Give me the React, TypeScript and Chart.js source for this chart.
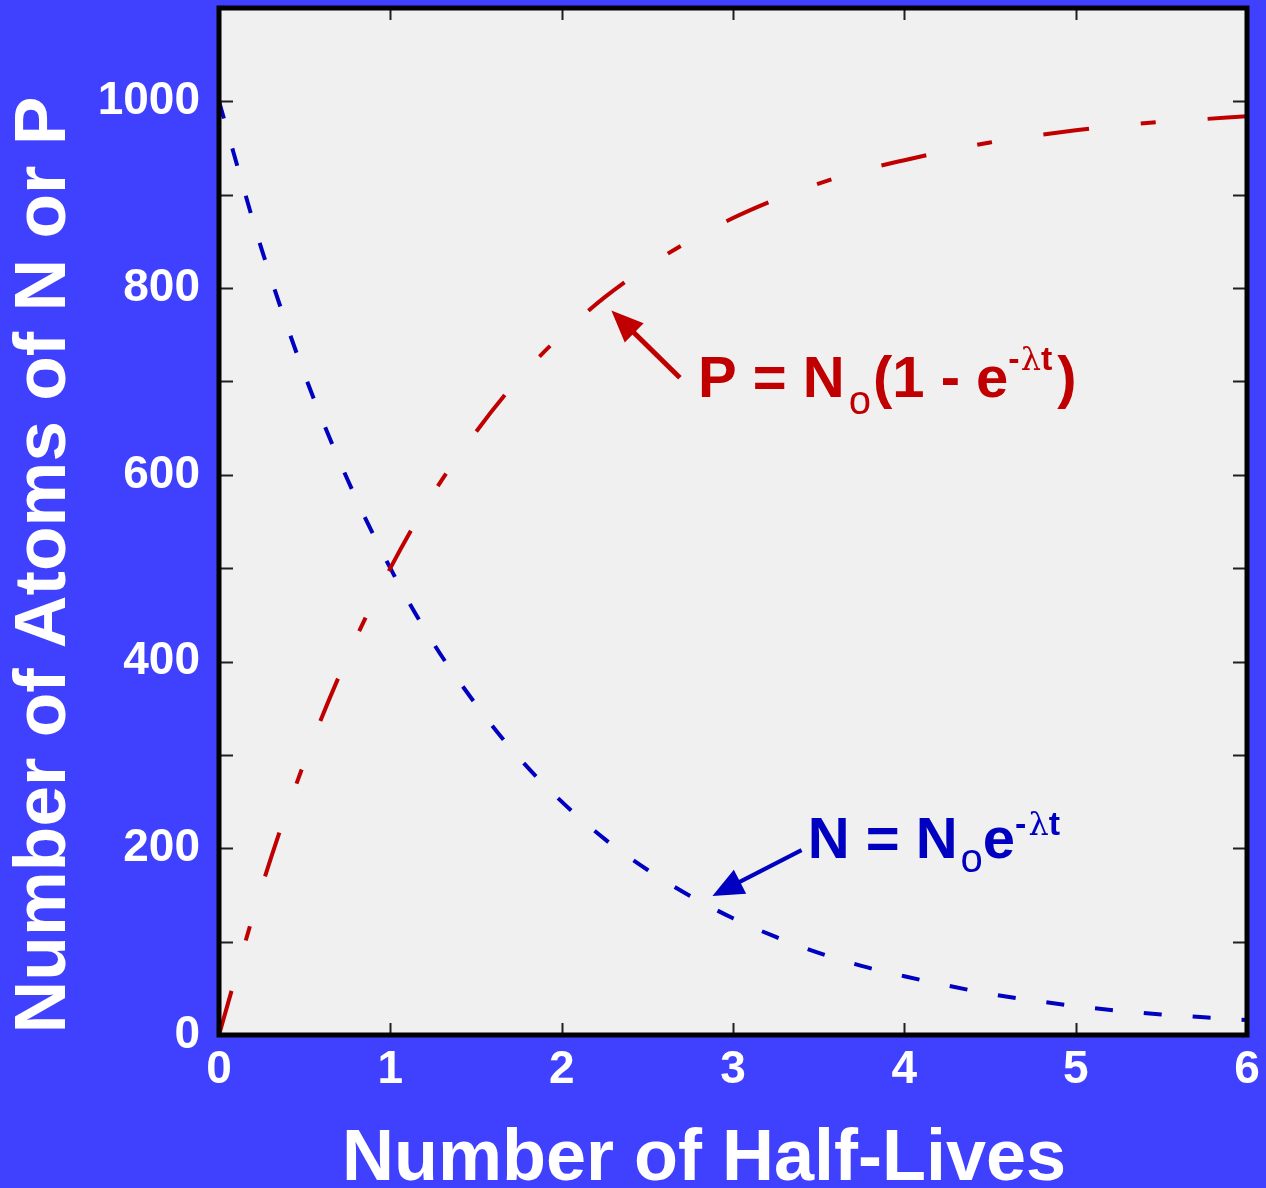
import React, { useEffect, useRef } from 'react';
import { Chart, registerables } from 'chart.js';

Chart.register(...registerables);

// ---- data ----
const halfLives = [0, 0.25, 0.5, 0.75, 1, 1.25, 1.5, 1.75, 2, 2.25, 2.5, 2.75, 3, 3.25, 3.5, 3.75, 4, 4.25, 4.5, 4.75, 5, 5.25, 5.5, 5.75, 6];
const nAtoms = [1000, 841, 707, 595, 500, 420, 354, 297, 250, 210, 177, 149, 125, 105, 88, 74, 63, 53, 44, 37, 31, 26, 22, 19, 16];
const pAtoms = [0, 159, 293, 405, 500, 580, 646, 703, 750, 790, 823, 851, 875, 895, 912, 926, 937, 947, 956, 963, 969, 974, 978, 981, 984];
const yLabelValues = [0, 200, 400, 600, 800, 1000];
const xTitle = 'Number of Half-Lives';
const yTitle = 'Number of Atoms of N or P';

// annotation anchors (data space)
const pArrowTip = [2.29, 776];
const pArrowTail = [2.69, 704];
const pLabelAt = [2.796, 683];
const nArrowTip = [2.88, 149];
const nArrowTail = [3.40, 198];
const nLabelAt = [3.436, 190];

const FONT = '"Liberation Sans", Arial, Helvetica, sans-serif';
const BG = '#4040FF';
const PLOT_BG = '#F0F0F0';
const RED = '#C00000';
const BLUE = '#0000C0';

type Part = { t: string; s: number; w: string; dy?: number; gap?: number; f?: string };

function drawRich(ctx: CanvasRenderingContext2D, x: number, y: number, parts: Part[], color: string) {
  ctx.save();
  ctx.fillStyle = color;
  ctx.textBaseline = 'alphabetic';
  ctx.textAlign = 'left';
  let cx = x;
  for (const p of parts) {
    cx += p.gap || 0;
    ctx.font = `${p.w} ${p.s}px ${p.f || FONT}`;
    ctx.fillText(p.t, cx, y + (p.dy || 0));
    cx += ctx.measureText(p.t).width;
  }
  ctx.restore();
}

function drawArrow(ctx: CanvasRenderingContext2D, tx: number, ty: number, sx: number, sy: number, color: string, lw: number, hl: number, hw: number) {
  const ang = Math.atan2(ty - sy, tx - sx);
  const bx = tx - Math.cos(ang) * hl;
  const by = ty - Math.sin(ang) * hl;
  ctx.save();
  ctx.strokeStyle = color;
  ctx.fillStyle = color;
  ctx.lineWidth = lw;
  ctx.lineCap = 'butt';
  ctx.beginPath();
  ctx.moveTo(sx, sy);
  ctx.lineTo(bx + Math.cos(ang) * 2, by + Math.sin(ang) * 2);
  ctx.stroke();
  const px = -Math.sin(ang) * hw / 2;
  const py = Math.cos(ang) * hw / 2;
  ctx.beginPath();
  ctx.moveTo(tx, ty);
  ctx.lineTo(bx + px, by + py);
  ctx.lineTo(bx - px, by - py);
  ctx.closePath();
  ctx.fill();
  ctx.restore();
}

const decorPlugin = {
  id: 'decor',
  beforeDraw(chart: any) {
    const { ctx, width, height, chartArea: a } = chart;
    ctx.save();
    ctx.fillStyle = BG;
    ctx.fillRect(0, 0, width, height);
    ctx.fillStyle = PLOT_BG;
    ctx.fillRect(a.left, a.top, a.right - a.left, a.bottom - a.top);
    ctx.restore();
  },
  afterDatasetsDraw(chart: any) {
    const { ctx, chartArea: a, scales } = chart;
    const xs = scales.x;
    const ys = scales.y;
    ctx.save();
    // inner tick marks
    ctx.strokeStyle = '#202020';
    ctx.lineWidth = 2;
    ctx.beginPath();
    for (const t of ys.ticks) {
      const py = Math.round(ys.getPixelForValue(t.value)) + 0.5;
      ctx.moveTo(a.left, py);
      ctx.lineTo(a.left + 14, py);
      ctx.moveTo(a.right, py);
      ctx.lineTo(a.right - 14, py);
    }
    for (const t of xs.ticks) {
      const px = Math.round(xs.getPixelForValue(t.value)) + 0.5;
      ctx.moveTo(px, a.bottom);
      ctx.lineTo(px, a.bottom - 12);
      ctx.moveTo(px, a.top);
      ctx.lineTo(px, a.top + 12);
    }
    ctx.stroke();
    // frame
    ctx.strokeStyle = '#000000';
    ctx.lineWidth = 5;
    ctx.strokeRect(a.left, a.top, a.right - a.left, a.bottom - a.top);
    ctx.restore();

    // axis titles
    ctx.save();
    ctx.fillStyle = '#FFFFFF';
    ctx.font = `bold 72px ${FONT}`;
    ctx.textAlign = 'center';
    ctx.textBaseline = 'alphabetic';
    ctx.fillText(xTitle, 704, 1180);
    ctx.translate(65, 565);
    ctx.rotate(-Math.PI / 2);
    ctx.font = `bold 73px ${FONT}`;
    ctx.fillText(yTitle, 0, 0);
    ctx.restore();

    // annotations
    const X = (v: number) => xs.getPixelForValue(v);
    const Y = (v: number) => ys.getPixelForValue(v);
    drawArrow(ctx, X(pArrowTip[0]), Y(pArrowTip[1]), X(pArrowTail[0]), Y(pArrowTail[1]), RED, 5, 32, 27);
    drawArrow(ctx, X(nArrowTip[0]), Y(nArrowTip[1]), X(nArrowTail[0]), Y(nArrowTail[1]), BLUE, 4, 31, 27);
    drawRich(ctx, X(pLabelAt[0]), Y(pLabelAt[1]), [
      { t: 'P = N', s: 58, w: 'bold' },
      { t: 'o', s: 40, w: 'normal', dy: 17, gap: 4 },
      { t: '(1 - e', s: 58, w: 'bold', gap: 2 },
      { t: '-', s: 34, w: 'bold', dy: -27 },
      { t: 'λ', s: 32, w: 'normal', dy: -27, gap: 1, f: '"DejaVu Serif", serif' },
      { t: 't', s: 34, w: 'bold', dy: -27 },
      { t: ')', s: 58, w: 'bold', gap: 5 },
    ], RED);
    drawRich(ctx, X(nLabelAt[0]), Y(nLabelAt[1]), [
      { t: 'N = N', s: 58, w: 'bold' },
      { t: 'o', s: 40, w: 'normal', dy: 14, gap: 3 },
      { t: 'e', s: 58, w: 'bold' },
      { t: '-', s: 34, w: 'bold', dy: -23 },
      { t: 'λ', s: 32, w: 'normal', dy: -23, gap: 2, f: '"DejaVu Serif", serif' },
      { t: 't', s: 34, w: 'bold', dy: -23 },
    ], BLUE);
  },
};

export default function App() {
  const ref = useRef<HTMLCanvasElement | null>(null);
  useEffect(() => {
    if (!ref.current) return;
    const chart = new Chart(ref.current, {
      type: 'line',
      data: {
        labels: halfLives,
        datasets: [
          {
            label: 'P',
            data: halfLives.map((x, i) => ({ x, y: pAtoms[i] })),
            borderColor: RED,
            borderWidth: 4,
            borderDash: [46, 52, 15, 52],
            borderCapStyle: 'butt',
            pointRadius: 0,
            fill: false,
            cubicInterpolationMode: 'monotone',
          },
          {
            label: 'N',
            data: halfLives.map((x, i) => ({ x, y: nAtoms[i] })),
            borderColor: BLUE,
            borderWidth: 4,
            borderDash: [18, 31],
            borderCapStyle: 'butt',
            pointRadius: 0,
            fill: false,
            cubicInterpolationMode: 'monotone',
          },
        ],
      },
      options: {
        animation: false,
        responsive: false,
        maintainAspectRatio: false,
        layout: { padding: { top: 8, right: 19, left: 0, bottom: 0 } },
        plugins: { legend: { display: false }, tooltip: { enabled: false } },
        scales: {
          x: {
            type: 'linear',
            min: 0,
            max: 6,
            grid: { display: false, drawTicks: false },
            border: { display: false },
            ticks: {
              stepSize: 1,
              color: '#FFFFFF',
              font: { family: FONT, size: 46, weight: 'bold' },
              padding: 8,
              maxRotation: 0,
              autoSkip: false,
            },
            title: { display: false, text: xTitle },
            afterFit: (s: any) => {
              s.height = 153;
              s.paddingLeft = 0;
              s.paddingRight = 0;
            },
          },
          y: {
            type: 'linear',
            min: 0,
            max: 1100,
            grid: { display: false, drawTicks: false },
            border: { display: false },
            ticks: {
              stepSize: 100,
              color: '#FFFFFF',
              font: { family: FONT, size: 46, weight: 'bold' },
              padding: 19,
              autoSkip: false,
              callback: (v: any) => (yLabelValues.includes(Number(v)) ? String(v) : ''),
            },
            title: { display: false, text: yTitle },
            afterFit: (s: any) => {
              s.width = 219;
              s.paddingTop = 0;
              s.paddingBottom = 0;
            },
          },
        },
      },
      plugins: [decorPlugin],
    } as any);
    return () => chart.destroy();
  }, []);
  return (
    <div style={{ position: 'fixed', left: 0, top: 0, width: 1266, height: 1188 }}>
      <canvas ref={ref} width={1266} height={1188} style={{ display: 'block' }} />
    </div>
  );
}
